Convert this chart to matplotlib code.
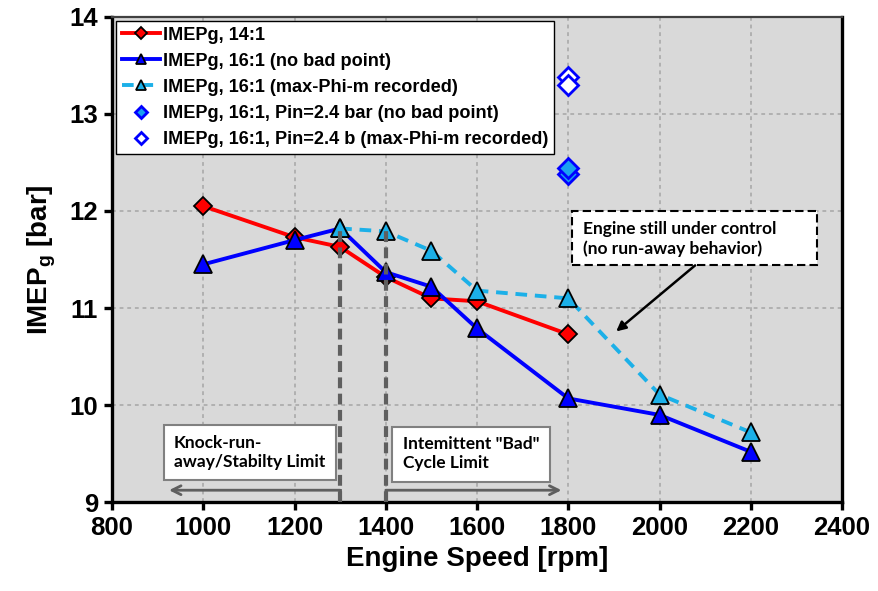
import matplotlib
matplotlib.use('Agg')
import matplotlib.pyplot as plt
from matplotlib.patches import Rectangle

plt.rcParams['font.family'] = ['Liberation Sans', 'DejaVu Sans']
plt.rcParams['mathtext.fontset'] = 'custom'
plt.rcParams['mathtext.bf'] = 'Liberation Sans:bold'
plt.rcParams['mathtext.rm'] = 'Liberation Sans'

# ---- data ----
speed_14 = [1000, 1200, 1300, 1400, 1500, 1600, 1800]
imep_14 = [12.05, 11.73, 11.63, 11.32, 11.10, 11.07, 10.73]

speed_16 = [1000, 1200, 1300, 1400, 1500, 1600, 1800, 2000, 2200]
imep_16 = [11.45, 11.70, 11.82, 11.37, 11.22, 10.79, 10.07, 9.90, 9.52]

speed_16max = [1300, 1400, 1500, 1600, 1800, 2000, 2200]
imep_16max = [11.82, 11.79, 11.59, 11.18, 11.10, 10.11, 9.72]

speed_pin = [1800, 1800]
imep_pin = [12.38, 12.44]

speed_pin_max = [1800, 1800]
imep_pin_max = [13.38, 13.30]

limit_speeds = [1300, 1400]
limit_tops = [11.82, 11.80]

labels = ['IMEPg, 14:1',
          'IMEPg, 16:1 (no bad point)',
          'IMEPg, 16:1 (max-Phi-m recorded)',
          'IMEPg, 16:1, Pin=2.4 bar (no bad point)',
          'IMEPg, 16:1, Pin=2.4 b (max-Phi-m recorded)']

xticks = [800, 1000, 1200, 1400, 1600, 1800, 2000, 2200, 2400]
yticks = [9, 10, 11, 12, 13, 14]

# ---- figure ----
fig = plt.figure(figsize=(8.79, 5.91), dpi=100)
ax = fig.add_axes([0.1274, 0.150, 0.958 - 0.1274, 0.9717 - 0.150])
ax.set_facecolor('#D9D9D9')

ax.plot(speed_14, imep_14, color='#FF0000', lw=2.8, marker='D', ms=9.5,
        mfc='#FF0000', mec='black', mew=1.3, label=labels[0], zorder=3)
ax.plot(speed_16, imep_16, color='#0000FF', lw=2.8, marker='^', ms=13,
        mfc='#0000FF', mec='black', mew=1.3, label=labels[1], zorder=4)
ax.plot(speed_16max, imep_16max, color='#1CB0E8', lw=2.8, ls=(0, (3, 2)),
        marker='^', ms=13, mfc='#1CB0E8', mec='black', mew=1.3,
        label=labels[2], zorder=5)
ax.plot(speed_pin, imep_pin, ls='none', marker='D', ms=10.5, mfc='#1AA0F0',
        mec='#0000FF', mew=2.0, label=labels[3], zorder=5)
ax.plot(speed_pin_max, imep_pin_max, ls='none', marker='D', ms=10.5, mfc='white',
        mec='#0000FF', mew=2.0, label=labels[4], zorder=5)

# limit vertical dashed lines
for xs, yt in zip(limit_speeds, limit_tops):
    ax.plot([xs, xs], [9, yt], color='#5F5F5F', lw=3, ls=(0, (2.6, 1.3)),
            zorder=6, solid_capstyle='butt')

# bracket arrows
gray = '#5F5F5F'
ax.plot([1300, 1300], [9.0, 9.125], color=gray, lw=2, zorder=6)
ax.annotate('', xy=(925, 9.125), xytext=(1300, 9.125),
            arrowprops=dict(arrowstyle='->', color=gray, lw=2,
                            mutation_scale=16, shrinkA=0, shrinkB=0), zorder=6)
ax.plot([1400, 1400], [9.0, 9.125], color=gray, lw=2, zorder=6)
ax.annotate('', xy=(1785, 9.125), xytext=(1400, 9.125),
            arrowprops=dict(arrowstyle='->', color=gray, lw=2,
                            mutation_scale=16, shrinkA=0, shrinkB=0), zorder=6)

# text boxes
tfont = dict(family=['Lato', 'DejaVu Sans'], fontweight='bold', fontsize=12.5)
ax.add_patch(Rectangle((914, 9.23), 1291 - 914, 9.80 - 9.23, facecolor='white',
                       edgecolor='#808080', lw=1.5, zorder=7))
ax.text(936, 9.515, 'Knock-run-\naway/Stabilty Limit', ha='left', va='center',
        linespacing=1.25, zorder=8, **tfont)
ax.add_patch(Rectangle((1414, 9.21), 1760 - 1414, 9.78 - 9.21, facecolor='white',
                       edgecolor='#808080', lw=1.5, zorder=7))
ax.text(1437, 9.50, 'Intemittent "Bad"\nCycle Limit', ha='left', va='center',
        linespacing=1.25, zorder=8, **tfont)

ax.add_patch(Rectangle((1808, 11.44), 2345 - 1808, 12.0 - 11.44, facecolor='white',
                       edgecolor='black', lw=1.5, ls=(0, (4, 2)), zorder=7))
ax.text(1832, 11.715, 'Engine still under control\n(no run-away behavior)',
        ha='left', va='center', linespacing=1.25, zorder=8, **tfont)
ax.annotate('', xy=(1905, 10.76), xytext=(2078, 11.44),
            arrowprops=dict(arrowstyle='-|>', color='black', lw=1.8,
                            mutation_scale=14, shrinkA=0, shrinkB=0), zorder=8)

# axes formatting
ax.set_xlim(800, 2400)
ax.set_ylim(9, 14)
ax.set_xticks(xticks)
ax.set_yticks(yticks)
ax.set_xticklabels([str(v) for v in xticks])
ax.set_yticklabels([str(v) for v in yticks])
ax.grid(True, ls=(0, (2.5, 2.5)), color='#A6A6A6', lw=1.1)
ax.set_axisbelow(True)
for s in ax.spines.values():
    s.set_color('black')
    s.set_linewidth(2.4)
ax.spines['top'].set_linewidth(1.6)
ax.spines['top'].set_color('#404040')
ax.tick_params(axis='both', which='both', direction='out', length=6, width=2.4,
               labelsize=18.5, pad=4, top=False, right=False)
for lab in ax.get_xticklabels() + ax.get_yticklabels():
    lab.set_fontweight('bold')

ax.set_xlabel('Engine Speed [rpm]', fontsize=20, fontweight='bold', labelpad=4)
ax.set_ylabel(r'IMEP$_{\mathbf{g}}$ [bar]', fontsize=20, fontweight='bold', labelpad=8)

leg = ax.legend(loc='upper left', bbox_to_anchor=(0.005, 0.992),
                prop=dict(weight='bold', size=13.1), frameon=True, fancybox=False,
                edgecolor='black', framealpha=1, handlelength=2.1,
                handletextpad=0.15, labelspacing=0.5, borderpad=0.33,
                borderaxespad=0.0, markerscale=0.6)
leg.get_frame().set_linewidth(1.0)
leg.set_zorder(10)

fig.savefig('out.png', dpi=100)
